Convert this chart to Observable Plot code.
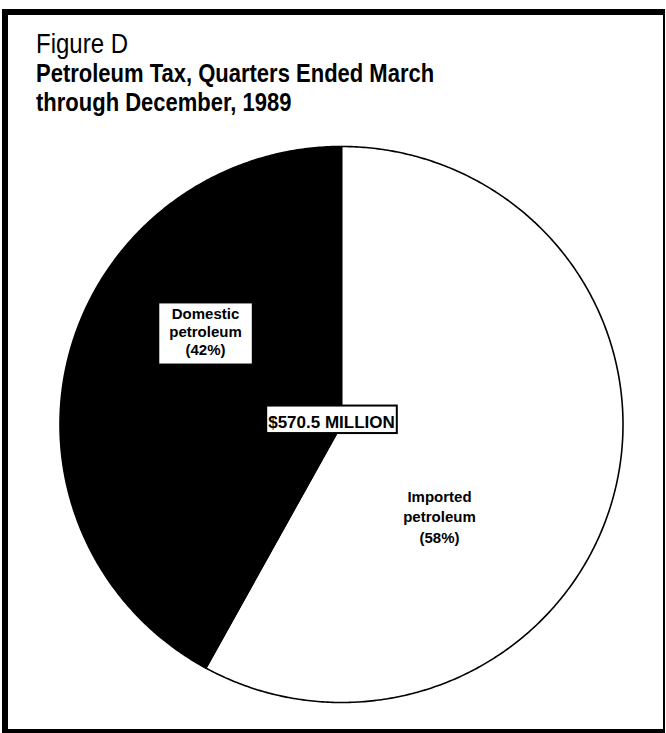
<!DOCTYPE html>
<html><head><meta charset="utf-8">
<script src="https://cdn.jsdelivr.net/npm/d3@7"></script>
<script src="https://cdn.jsdelivr.net/npm/@observablehq/plot@0.6"></script>
<style>
html,body{margin:0;padding:0;background:#fff;}
body{width:666px;height:733px;position:relative;overflow:hidden;font-family:"Liberation Sans",Arial,Helvetica,sans-serif;}
#frame{position:absolute;left:2px;top:9px;width:663px;height:724px;box-sizing:border-box;border-style:solid;border-color:#000;border-width:6px 2px 4px 6px;}
.t{position:absolute;left:36px;white-space:nowrap;color:#000;}
#chart{position:absolute;left:0;top:0;}
</style></head><body>
<div id="frame"></div>
<div class="t" style="top:32.7px;font-size:24px;line-height:24px;transform:scaleY(1.14);transform-origin:0 20.3px;">Figure D</div>
<div class="t" style="top:64.4px;font-size:22px;line-height:22px;font-weight:bold;transform:scaleY(1.14);transform-origin:0 18.6px;">Petroleum Tax, Quarters Ended March</div>
<div class="t" style="top:93.4px;font-size:22px;line-height:22px;font-weight:bold;transform:scaleY(1.14);transform-origin:0 18.6px;">through December, 1989</div>
<div id="chart"></div>
<script>
// ---- data ----
const slices = ["Imported petroleum", "Domestic petroleum"];
const shares = [58, 42];
const totalLabel = "$570.5 MILLION";

// ---- build ----
const data = slices.map((name, i) => ({name, share: shares[i]}));
const arcs = d3.pie().sort(null).value(d => d.share)(data);
const pts = [];
arcs.forEach(p => {
  const n = Math.max(2, Math.ceil((p.endAngle - p.startAngle) / (Math.PI / 360)));
  pts.push({slice: p.data.name, x: 0, y: 0});
  for (let i = 0; i <= n; i++) {
    const a = p.startAngle + (p.endAngle - p.startAngle) * i / n;
    pts.push({slice: p.data.name, x: Math.sin(a), y: Math.cos(a)});
  }
});
const labelOf = d => d.name.split(" ").join("\n") + `\n(${d.share}%)`;
const font = '"Liberation Sans", Arial, Helvetica, sans-serif';

const svg = Plot.plot({
  width: 666,
  height: 733,
  margin: 0,
  x: {domain: [-1, 1], range: [59.5, 622.5], axis: null},
  y: {domain: [-1, 1], range: [702, 146], axis: null},
  style: {background: "transparent", overflow: "visible"},
  marks: [
    Plot.line(pts.filter(d => d.slice === slices[0]), {x: "x", y: "y", curve: "linear-closed", fill: "white", stroke: "black", strokeWidth: 1.6}),
    Plot.line(pts.filter(d => d.slice === slices[1]), {x: "x", y: "y", curve: "linear-closed", fill: "black", stroke: "black", strokeWidth: 1.6}),
    Plot.text([data[1]], {x: -0.483, y: 0.335, text: labelOf, fontFamily: font, fontWeight: "bold", fontSize: 15, lineHeight: 1.17, fill: "black", className: "lab-dom"}),
    Plot.text([data[0]], {x: 0.348, y: -0.328, text: labelOf, fontFamily: font, fontWeight: "bold", fontSize: 15, lineHeight: 1.37, fill: "black", className: "lab-imp"}),
    Plot.text([totalLabel], {x: -0.0355, y: 0.0086, text: d => d, fontFamily: font, fontWeight: "bold", fontSize: 17, fill: "black", className: "lab-tot"})
  ]
});
document.getElementById("chart").appendChild(svg);

function box(cls, pad, sw) {
  const g = svg.querySelector("g." + cls) || svg.querySelector("." + cls);
  if (!g) return;
  const t = g.querySelector("text");
  if (!t) return;
  const b = t.getBBox();
  const r = document.createElementNS("http://www.w3.org/2000/svg", "rect");
  r.setAttribute("x", b.x - pad[3]);
  r.setAttribute("y", b.y - pad[0]);
  r.setAttribute("width", b.width + pad[1] + pad[3]);
  r.setAttribute("height", b.height + pad[0] + pad[2]);
  r.setAttribute("fill", "white");
  r.setAttribute("stroke", "black");
  r.setAttribute("stroke-width", sw);
  const tr = t.getAttribute("transform");
  if (tr) r.setAttribute("transform", tr);
  t.parentNode.insertBefore(r, t);
}
box("lab-dom", [3, 11, 7, 11], 2);
box("lab-tot", [7, 2, 1.5, 2], 2);
</script>
</body></html>
